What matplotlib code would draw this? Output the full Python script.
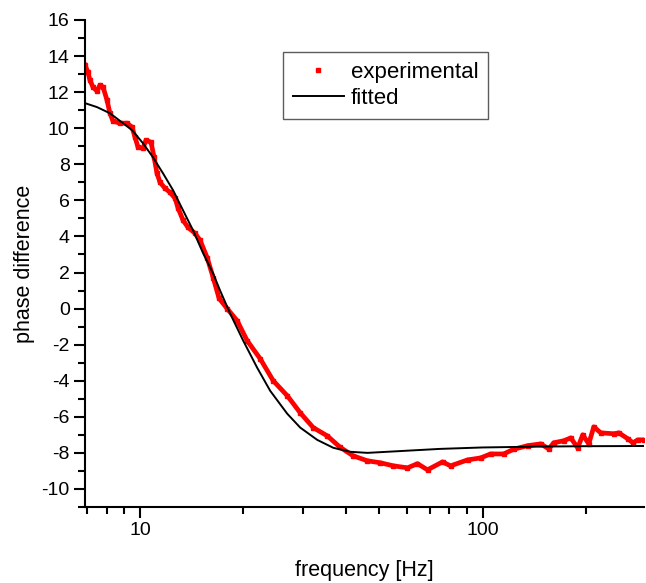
import matplotlib
matplotlib.use('Agg')
import matplotlib.pyplot as plt
from matplotlib.ticker import LogLocator, MultipleLocator, NullFormatter, FixedLocator, FixedFormatter
import numpy as np

plt.rcParams['font.family'] = ['Liberation Sans', 'DejaVu Sans']
plt.rcParams['axes.unicode_minus'] = False

freq_exp = [6.91, 7.05, 7.14, 7.29, 7.49, 7.64, 7.80, 8.01, 8.17, 8.34, 8.74, 9.16,
            9.48, 9.67, 9.87, 10.20, 10.41, 10.77, 10.99, 11.21, 11.44, 11.83, 12.24,
            12.66, 12.92, 13.36, 13.81, 14.48, 14.98, 15.70, 16.35, 17.02, 17.96,
            19.21, 20.55, 22.43, 24.48, 26.90, 29.36, 32.04, 35.22, 38.44, 41.96,
            46.11, 50.32, 54.92, 60.36, 64.55, 69.06, 76.38, 80.60, 90.39, 98.67,
            105.5, 115.2, 123.2, 135.4, 147.8, 156.0, 161.3, 172.5, 180.8, 189.5,
            196.0, 204.1, 211.1, 221.3, 241.5, 249.8, 265.5, 274.6, 284.0, 295.7]
phase_exp = [13.5, 13.1, 12.67, 12.28, 12.06, 12.39, 12.28, 11.56, 10.83, 10.39, 10.28,
             10.28, 10.06, 9.5, 8.94, 8.89, 9.33, 9.22, 8.39, 7.5, 7.0, 6.67, 6.44,
             6.11, 5.56, 4.89, 4.5, 4.17, 3.78, 2.83, 1.72, 0.56, 0.0,
             -0.67, -1.78, -2.78, -4.0, -4.83, -5.78, -6.6, -7.06, -7.7, -8.17,
             -8.44, -8.55, -8.72, -8.83, -8.6, -8.94, -8.5, -8.72, -8.39, -8.28,
             -8.06, -8.06, -7.8, -7.6, -7.5, -7.78, -7.44, -7.33, -7.17, -7.72,
             -7.0, -7.5, -6.56, -6.89, -6.94, -6.89, -7.22, -7.44, -7.28, -7.28]

# fitted curve
freq_fit = [6.91, 7.49, 8.17, 8.92, 9.48, 10.20, 10.91, 11.67, 12.49, 13.36, 14.29,
            15.29, 16.35, 17.13, 18.33, 20.01, 21.98, 23.99, 26.90, 29.36, 32.91,
            36.67, 41.12, 46.11, 57.56, 75.0, 100.0, 150.0, 200.0, 295.7]
phase_fit = [11.39, 11.17, 10.83, 10.28, 9.89, 9.17, 8.39, 7.5, 6.56, 5.44, 4.33,
             3.06, 1.94, 1.0, -0.28, -1.78, -3.28, -4.56, -5.83, -6.6, -7.28,
             -7.72, -7.94, -8.0, -7.9, -7.78, -7.7, -7.65, -7.63, -7.62]

fig = plt.figure(figsize=(6.46, 5.83), dpi=100)
ax = fig.add_axes([0.1316, 0.1304, 0.8654, 0.8353])

ax.plot(freq_exp, phase_exp, color='red', lw=3.4, solid_joinstyle='round')
ax.plot(freq_exp, phase_exp, ls='none', marker='s', ms=3.4, color='red', mec='red')
ax.plot(freq_fit, phase_fit, color='black', lw=1.4)

# legend proxies
h1, = ax.plot([], [], ls='none', marker='s', ms=3.2, color='red')
h2, = ax.plot([], [], color='black', lw=1.4)
leg = ax.legend([h1, h2], ['experimental', 'fitted'], loc='upper left',
                bbox_to_anchor=(0.354, 0.935), fontsize=16, frameon=True,
                fancybox=False, edgecolor='#333333', handlelength=2.3,
                handletextpad=0.3, borderpad=0.45, labelspacing=0.25, borderaxespad=0)
leg.get_frame().set_linewidth(1.0)

ax.set_xscale('log')
ax.set_xlim(6.91, 296)
ax.set_ylim(-11, 16)

ax.xaxis.set_major_locator(FixedLocator([10, 100]))
ax.xaxis.set_major_formatter(FixedFormatter(['10', '100']))
ax.xaxis.set_minor_locator(LogLocator(base=10, subs=np.arange(2, 10), numticks=20))
ax.xaxis.set_minor_formatter(NullFormatter())
ax.yaxis.set_major_locator(MultipleLocator(2))
ax.yaxis.set_minor_locator(MultipleLocator(1))

for s in ['top', 'right']:
    ax.spines[s].set_visible(False)
for s in ['left', 'bottom']:
    ax.spines[s].set_linewidth(1.5)

ax.tick_params(which='major', direction='out', length=8, width=1.5, labelsize=14, pad=3)
ax.tick_params(which='minor', direction='out', length=5, width=1.5)

ax.set_xlabel('frequency [Hz]', fontsize=15.5, labelpad=15)
ax.set_ylabel('phase difference', fontsize=15.5, labelpad=5)

fig.savefig('out.png', dpi=100)
